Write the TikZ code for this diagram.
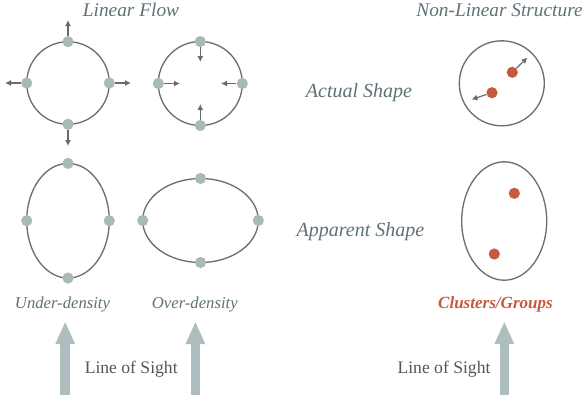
\documentclass[tikz,border=0pt]{standalone}
\usepackage{fontspec}
\setmainfont{Liberation Serif}
\usetikzlibrary{arrows.meta}
\definecolor{slate}{HTML}{5E7177}
\definecolor{ringgrey}{HTML}{6E6E6E}
\definecolor{dotgrey}{HTML}{A8B9B9}
\definecolor{arrowgrey}{HTML}{6A6A6A}
\definecolor{sightgrey}{HTML}{AEBDBD}
\definecolor{clusterred}{HTML}{C65A3E}
\definecolor{sighttext}{HTML}{555555}
\begin{document}
\begin{tikzpicture}[x=0.75pt,y=0.75pt,yscale=-1,xscale=1,
  ring/.style={draw=ringgrey, line width=1pt},
  dot/.style={circle, fill=dotgrey, inner sep=0pt, minimum size=8.4pt},
  reddot/.style={dot, fill=clusterred},
  flow/.style={-{Latex[length=4.5pt,width=4.5pt]}, draw=arrowgrey, line width=0.9pt},
  sight/.style={-{Triangle[length=17pt,width=13.5pt]}, draw=sightgrey, line width=7.2pt},
  heading/.style={font=\fontsize{14.5}{17}\selectfont\itshape, text=slate, anchor=base},
  rowlabel/.style={font=\fontsize{15}{18}\selectfont\itshape, text=slate, anchor=base},
  caption/.style={font=\fontsize{12.5}{15}\selectfont\itshape, text=slate, anchor=base},
  lostext/.style={font=\fontsize{13.2}{16}\selectfont, text=sighttext, anchor=base}]
\useasboundingbox (0,0) rectangle (588,394);
% headings
\node[heading] (linflow) at (131,16) {Linear Flow};
\node[heading] (nonlin) at (499.5,16) {Non-Linear Structure};
\node[rowlabel] (actual) at (359,97.3) {Actual Shape};
\node[rowlabel] (apparent) at (360.5,236) {Apparent Shape};
% outflow circle
\draw[ring] (68,83) circle (41.3);
\node[dot] (oT) at (68,41.7) {};
\node[dot] (oB) at (68,124.3) {};
\node[dot] (oL) at (26.7,83) {};
\node[dot] (oR) at (109.3,83) {};
\coordinate (oTe) at (68,20);
\coordinate (oBe) at (68,146);
\coordinate (oLe) at (5,83);
\coordinate (oRe) at (131,83);
\draw[flow] (oT) -- (oTe);
\draw[flow] (oB) -- (oBe);
\draw[flow] (oL) -- (oLe);
\draw[flow] (oR) -- (oRe);
% infall circle
\draw[ring] (200.3,83.5) circle (42);
\node[dot] (iT) at (200.3,41.5) {};
\node[dot] (iB) at (200.3,125.5) {};
\node[dot] (iL) at (158.3,83.5) {};
\node[dot] (iR) at (242.3,83.5) {};
\coordinate (iTe) at (200.3,62);
\coordinate (iBe) at (200.3,104);
\coordinate (iLe) at (180,83.5);
\coordinate (iRe) at (221,83.5);
\draw[flow] (iT) -- (iTe);
\draw[flow] (iB) -- (iBe);
\draw[flow] (iL) -- (iLe);
\draw[flow] (iR) -- (iRe);
% cluster circle
\draw[ring] (501.8,83.3) circle (42.5);
\node[reddot] (cA) at (512.3,72.3) {};
\node[reddot] (cB) at (492,92.7) {};
\coordinate (cAe) at (527.5,57.5);
\coordinate (cBe) at (471.5,99.5);
\draw[flow] (cA) -- (cAe);
\draw[flow] (cB) -- (cBe);
% apparent shapes
\draw[ring] (68,220.7) ellipse [x radius=41.3, y radius=57.3];
\node[dot] (uT) at (68,163.4) {};
\node[dot] (uB) at (68,278) {};
\node[dot] (uL) at (26.7,220.7) {};
\node[dot] (uR) at (109.3,220.7) {};
\draw[ring] (200.5,220.5) ellipse [x radius=57.8, y radius=42];
\node[dot] (vT) at (200.5,178.5) {};
\node[dot] (vB) at (200.5,262.5) {};
\node[dot] (vL) at (142.7,220.5) {};
\node[dot] (vR) at (258.3,220.5) {};
\draw[ring] (504.2,221) ellipse [x radius=42.5, y radius=59.2];
\node[reddot] (gA) at (514.3,193.3) {};
\node[reddot] (gB) at (494.3,254) {};
% captions
\node[caption] (under) at (62.5,308.3) {Under-density};
\node[caption] (over) at (194.8,308.3) {Over-density};
\node[caption, text=clusterred, font=\fontsize{12.8}{15}\selectfont\bfseries\itshape] (groups) at (495.5,308.3) {Clusters/Groups};
% line of sight
\coordinate (s1b) at (65.2,396);
\coordinate (s1t) at (65.2,321.4);
\coordinate (s2b) at (195.4,396);
\coordinate (s2t) at (195.4,321.4);
\coordinate (s3b) at (504.3,396);
\coordinate (s3t) at (504.3,321.4);
\draw[sight] (s1b) -- (s1t);
\draw[sight] (s2b) -- (s2t);
\draw[sight] (s3b) -- (s3t);
\node[lostext] (los1) at (131.2,373) {Line of Sight};
\node[lostext] (los2) at (444,373) {Line of Sight};
\end{tikzpicture}
\end{document}
